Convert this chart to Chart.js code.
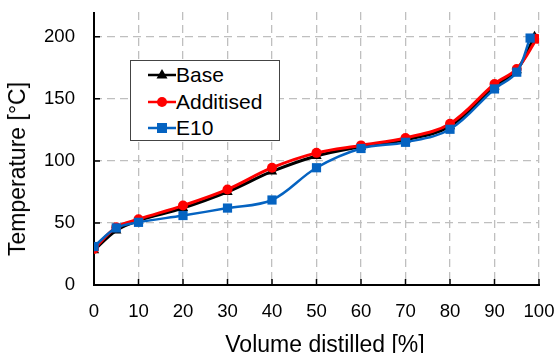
<!DOCTYPE html>
<html>
<head>
<meta charset="utf-8">
<script src="https://cdn.jsdelivr.net/npm/chart.js@4.4.1/dist/chart.umd.min.js"></script>
<style>
	body { margin: 0; background: #fff; }
	#wrap { position: relative; width: 558px; height: 353px; overflow: hidden; font-family: Arial, "Liberation Sans", sans-serif; color: #000; }
	#legend { position: absolute; left: 130px; top: 60px; width: 148px; height: 79px; border: 1.5px solid #444; background: #fff; }
	.row { position: absolute; left: 0; height: 26px; line-height: 26px; font-size: 21px; white-space: nowrap; }
	.row svg { position: absolute; left: 16px; top: 0; }
	.row span { position: absolute; left: 45px; top: 0; }
	.axis-title { position: absolute; font-size: 23px; line-height: 26px; white-space: nowrap; }
</style>
</head>
<body>
<div id="wrap">
	<canvas id="myChart" width="558" height="353"></canvas>
	<div id="legend"></div>
	<div class="axis-title" id="xTitle"></div>
	<div class="axis-title" id="yTitle"></div>
</div>
<script>
// distillation curves: volume distilled [%] vs temperature [°C]
const volBase = [0, 5, 10, 20, 30, 40, 50, 60, 70, 80, 90, 95, 99]
const tempBase = [28, 44, 52, 62, 75, 91.5, 104, 111.5, 117, 128, 160, 173, 200]

const volAdditised = [0, 5, 10, 20, 30, 40, 50, 60, 70, 80, 90, 95, 99.5]
const tempAdditised = [29, 46.5, 53, 64, 77, 94.5, 106.5, 112.5, 118.5, 130, 162, 174, 198.5]

const volE10 = [0, 5, 10, 20, 30, 40, 50, 60, 70, 80, 90, 95, 98]
const tempE10 = [31, 46, 50.5, 56, 62, 68.5, 94.5, 110, 115, 125.5, 158, 171.5, 199]

const seriesNames = ['Base', 'Additised', 'E10']
const xTicks = [0, 10, 20, 30, 40, 50, 60, 70, 80, 90, 100]
const yTicks = [0, 50, 100, 150, 200]
const xTitle = 'Volume distilled [%]'
const yTitle = 'Temperature [°C]'

const FONT = 'Arial, "Liberation Sans", sans-serif'
const BLUE = '#0563C1'

function toPoints(xs, ys) {
	return xs.map((x, i) => ({ x: x, y: ys[i] }))
}

const data = {
	datasets: [{
		label: seriesNames[0],
		data: toPoints(volBase, tempBase),
		borderColor: '#000',
		backgroundColor: '#000',
		borderWidth: 3,
		pointStyle: 'triangle',
		pointRadius: 6,
		pointBorderWidth: 0,
		tension: 0.35,
		order: 3
	}, {
		label: seriesNames[1],
		data: toPoints(volAdditised, tempAdditised),
		borderColor: '#FF0000',
		backgroundColor: '#FF0000',
		borderWidth: 3,
		pointStyle: 'circle',
		pointRadius: 5,
		pointBorderWidth: 0,
		tension: 0.35,
		order: 2
	}, {
		label: seriesNames[2],
		data: toPoints(volE10, tempE10),
		borderColor: BLUE,
		backgroundColor: BLUE,
		borderWidth: 2.5,
		pointStyle: 'rect',
		pointRadius: 6.5,
		pointBorderWidth: 0,
		tension: 0.35,
		order: 1
	}]
}

// solid black axes with short tick marks pointing into the plot
const insideTicks = {
	id: 'insideTicks',
	beforeDatasetsDraw(chart) {
		const c = chart.ctx
		const xs = chart.scales.x
		const ys = chart.scales.y
		const area = chart.chartArea
		c.save()
		c.setLineDash([])
		c.strokeStyle = '#000'
		c.lineWidth = 1.5
		c.beginPath()
		xTicks.forEach(v => {
			const px = xs.getPixelForValue(v)
			c.moveTo(px, area.bottom)
			c.lineTo(px, area.bottom - 6)
		})
		yTicks.forEach(v => {
			const py = ys.getPixelForValue(v)
			c.moveTo(area.left, py)
			c.lineTo(area.left + 6, py)
		})
		c.stroke()
		c.lineWidth = 2
		c.beginPath()
		c.moveTo(area.left, area.top)
		c.lineTo(area.left, area.bottom)
		c.lineTo(area.right + 1, area.bottom)
		c.stroke()
		c.restore()
	}
}

const gridColor = ctx => ctx.tick && ctx.tick.value === 0 ? 'rgba(0,0,0,0)' : '#BFBFBF'

const ctx = document.getElementById('myChart')
var chart = new Chart(ctx, {
	type: 'line',
	data: data,
	plugins: [insideTicks],
	options: {
		responsive: false,
		devicePixelRatio: 1,
		animation: false,
		layout: {
			padding: { top: 12, right: 19, left: 0, bottom: 0 }
		},
		plugins: {
			legend: { display: false },
			tooltip: { enabled: false }
		},
		scales: {
			x: {
				type: 'linear',
				min: 0,
				max: 100,
				afterFit: scale => {
					scale.height = 68
					scale.paddingLeft = 0
					scale.paddingRight = 0
				},
				afterBuildTicks: scale => { scale.ticks = xTicks.map(v => ({ value: v })) },
				grid: {
					color: gridColor,
					lineWidth: 1.3,
					drawTicks: false
				},
				border: { display: false, dash: [8, 5] },
				ticks: {
					color: '#000',
					padding: 16,
					maxRotation: 0,
					autoSkip: false,
					font: { family: FONT, size: 18.6 }
				}
			},
			y: {
				min: 0,
				max: 220,
				afterFit: scale => {
					scale.width = 94
					scale.paddingTop = 0
					scale.paddingBottom = 0
				},
				afterBuildTicks: scale => { scale.ticks = yTicks.map(v => ({ value: v })) },
				grid: {
					color: gridColor,
					lineWidth: 1.3,
					drawTicks: false
				},
				border: { display: false, dash: [8, 5] },
				ticks: {
					color: '#000',
					padding: 19,
					font: { family: FONT, size: 18.6 }
				}
			}
		}
	}
})

// legend box inside the plot
const legendIcons = [
	'<polygon points="15,7 20.5,16.5 9.5,16.5" fill="#000"/>',
	'<circle cx="15" cy="13" r="5" fill="#FF0000"/>',
	'<rect x="10" y="8" width="10" height="10" fill="' + BLUE + '"/>'
]
const legendColors = ['#000', '#FF0000', BLUE]
const legendEl = document.getElementById('legend')
seriesNames.forEach((name, i) => {
	const row = document.createElement('div')
	row.className = 'row'
	row.style.top = (1 + i * 26.5) + 'px'
	row.style.width = '100%'
	row.innerHTML = '<svg width="30" height="26"><line x1="1" y1="13" x2="29" y2="13" stroke="' + legendColors[i] +
		'" stroke-width="2.5"/>' + legendIcons[i] + '</svg><span>' + name + '</span>'
	legendEl.appendChild(row)
})

const xt = document.getElementById('xTitle')
xt.textContent = xTitle
xt.style.left = '325px'
xt.style.top = '331px'
xt.style.transform = 'translateX(-50%)'

const yt = document.getElementById('yTitle')
yt.textContent = yTitle
yt.style.left = '17px'
yt.style.top = '169px'
yt.style.transform = 'translate(-50%, -50%) rotate(-90deg)'
</script>
</body>
</html>
